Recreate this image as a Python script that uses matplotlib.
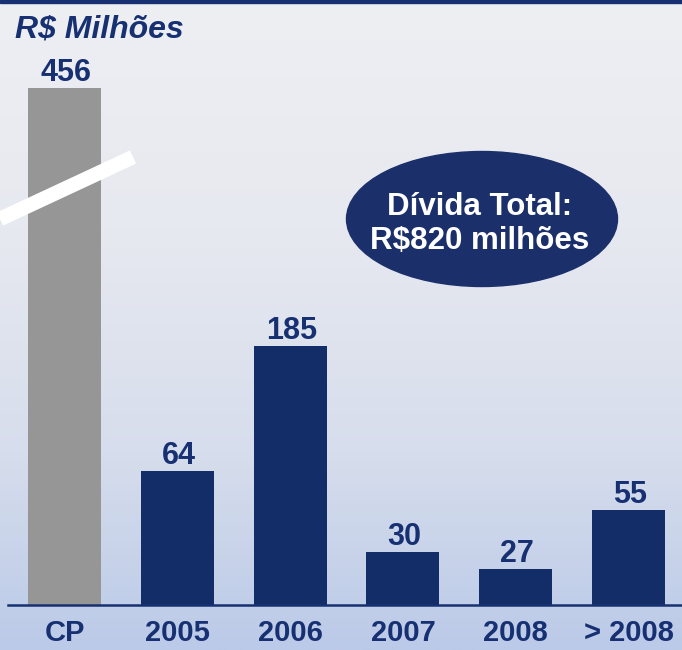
import matplotlib
matplotlib.use("Agg")
import matplotlib.pyplot as plt
import numpy as np
from matplotlib.patches import Ellipse, Rectangle
from matplotlib.colors import LinearSegmentedColormap
from matplotlib.lines import Line2D

# donnees
categorias = ["CP", "2005", "2006", "2007", "2008", "> 2008"]
valores = [456, 64, 185, 30, 27, 55]           # etiquettes affichees
altura_barras = [369, 96, 185, 38, 26, 68]      # hauteurs dessinees (echelle cassee)
cores_barras = ["#969696", "#132D69", "#132D69", "#132D69", "#132D69", "#132D69"]

titulo = "R$ Milhões"
texto_total = "Dívida Total:\nR$820 milhões"

azul = "#163072"
W, H = 682, 650

plt.rcParams["font.family"] = ["Liberation Sans", "DejaVu Sans"]

fig = plt.figure(figsize=(W / 100, H / 100), dpi=100)

# fond en degrade
bg = fig.add_axes([0, 0, 1, 1], zorder=0)
cmap = LinearSegmentedColormap.from_list(
    "fond", [(0.0, "#EEEFF3"), (0.35, "#E7E9F0"), (0.7, "#D6DDEC"), (1.0, "#BBCAE8")])
grad = np.linspace(0, 1, 256).reshape(-1, 1)
bg.imshow(grad, aspect="auto", cmap=cmap, extent=[0, 1, 0, 1], origin="upper")
bg.set_axis_off()

# axe principal
px_unit = 112.8
x_left, x_right = 8, 682
ax = fig.add_axes([x_left / W, 45 / H, (x_right - x_left) / W, 605 / H], zorder=1)
ax.patch.set_alpha(0)
x = np.arange(len(categorias))
ax.bar(x, altura_barras, width=73 / px_unit, color=cores_barras)
ax.set_xlim((x_left - 64.5) / px_unit, (x_right - 64.5) / px_unit)
ax.set_ylim(0, 605 / 1.4)

for xi, h, v in zip(x, altura_barras, valores):
    ax.annotate(str(v), (xi, h), xytext=(1, 0), textcoords="offset points",
                ha="center", va="bottom", fontsize=22, fontweight="bold", color=azul)

for s in ["top", "left", "right"]:
    ax.spines[s].set_visible(False)
ax.spines["bottom"].set_color(azul)
ax.spines["bottom"].set_linewidth(1.8)
ax.set_yticks([])
ax.set_xticks(x)
ax.set_xticklabels(categorias, fontsize=21, fontweight="bold", color=azul)
ax.tick_params(axis="x", length=0, pad=10)

# trait de coupure sur la barre CP
fig.add_artist(Line2D([0, 133 / W], [1 - 219 / H, 1 - 157 / H], color="white",
                      linewidth=10.5, solid_capstyle="butt", zorder=3))

# titre
fig.text(15 / W, 1 - 29 / H, titulo, fontsize=23, fontweight="bold", style="italic",
         color=azul, va="center", ha="left")

# ellipse dette totale
fig.add_artist(Ellipse((482 / W, 1 - 219 / H), 271 / W, 135 / H,
                       transform=fig.transFigure, color="#1B2F6B", zorder=3))
fig.text(480 / W, 1 - 224 / H, texto_total, fontsize=22.5, fontweight="bold",
         color="white", ha="center", va="center", linespacing=1.2, zorder=4)

# ligne du haut
fig.add_artist(Rectangle((0, 1 - 3 / H), 1, 3 / H, transform=fig.transFigure,
                         color=azul, zorder=3))

plt.savefig("out.png", dpi=100)
